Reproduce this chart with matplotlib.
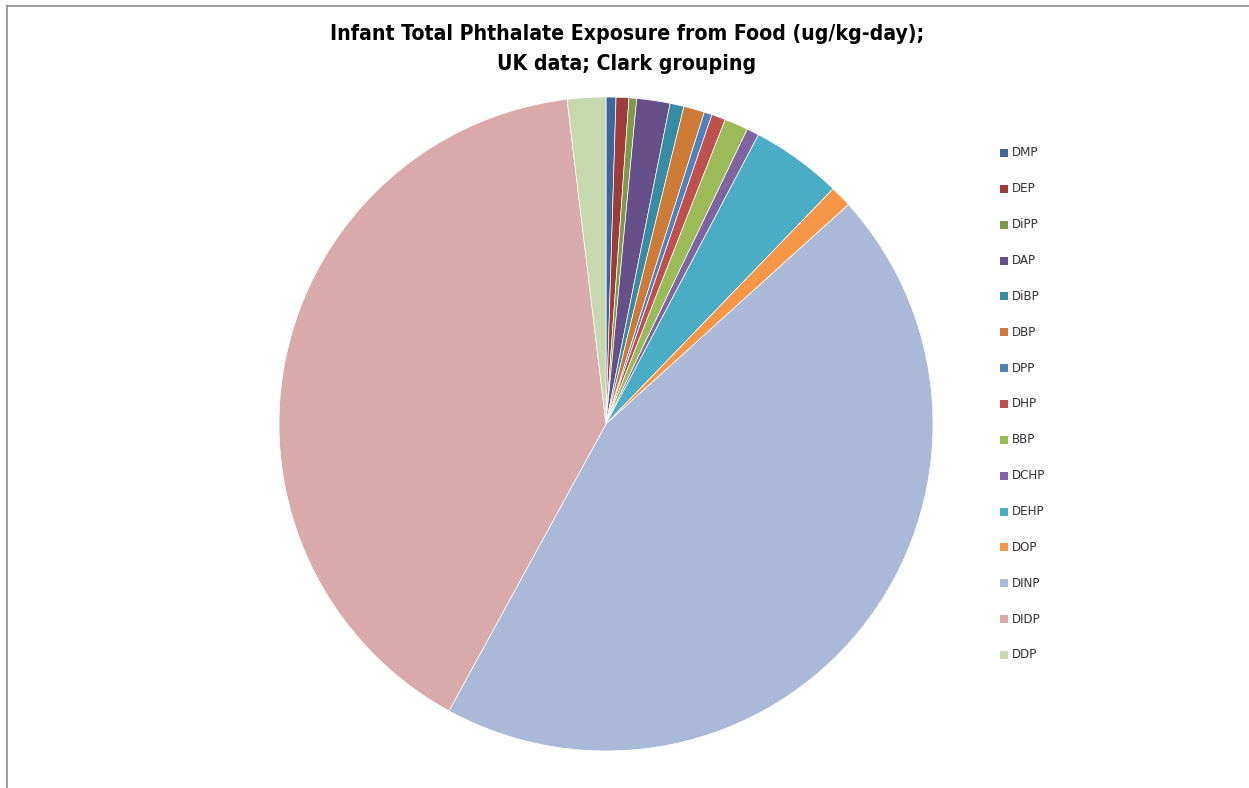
import matplotlib
matplotlib.use("Agg")
import matplotlib.pyplot as plt
from matplotlib.patches import Rectangle
from matplotlib.lines import Line2D

labels = ["DMP", "DEP", "DiPP", "DAP", "DiBP", "DBP", "DPP", "DHP", "BBP",
          "DCHP", "DEHP", "DOP", "DINP", "DIDP", "DDP"]
values = [0.049, 0.063, 0.038, 0.164, 0.069, 0.103, 0.039, 0.069, 0.117,
          0.061, 0.450, 0.107, 4.467, 4.012, 0.190]
colors = ["#3D679B", "#9E3C3A", "#7E9A49", "#67508A", "#378CA3", "#CD7A36",
          "#4F81BD", "#C0504D", "#9BBB59", "#8064A2", "#4BACC6", "#F79646",
          "#AAB9D8", "#D9AAAA", "#C8D8AE"]
title = "Infant Total Phthalate Exposure from Food (ug/kg-day);\nUK data; Clark grouping"

W, H = 1249, 788
fig = plt.figure(figsize=(W / 100, H / 100), dpi=100)

# chart area frame
fig.add_artist(Line2D([6.5 / W, 6.5 / W], [0, 1 - 5.5 / H], color="#8C8C8C", lw=1.2))
fig.add_artist(Line2D([6.5 / W, 1], [1 - 5.5 / H, 1 - 5.5 / H], color="#8C8C8C", lw=1.2))

cx, cy, r = 606, 424, 327
ax = fig.add_axes([(cx - r) / W, (H - cy - r) / H, 2 * r / W, 2 * r / H])
ax.pie(values, colors=colors, startangle=90, counterclock=False, radius=1,
       wedgeprops=dict(edgecolor="white", linewidth=0.5))
ax.set_xlim(-1, 1)
ax.set_ylim(-1, 1)
ax.set_aspect("equal")
ax.axis("off")

fig.text(627 / W, 1 - 49 / H, title, ha="center", va="center",
         fontsize=15.2, fontweight="bold", fontstretch="condensed",
         family="DejaVu Sans", linespacing=1.6, color="black")

# legend
for i, (lab, col) in enumerate(zip(labels, colors)):
    y = 153 + 35.85 * i
    fig.add_artist(Rectangle((1000 / W, 1 - (y + 4) / H), 8 / W, 8 / H,
                             facecolor=col, edgecolor="none",
                             transform=fig.transFigure))
    fig.text(1012 / W, 1 - y / H, lab, ha="left", va="center",
             fontsize=9.5, color="#333333", family="DejaVu Sans",
             fontstretch="condensed")

fig.savefig("out.png", dpi=100, facecolor="white")
